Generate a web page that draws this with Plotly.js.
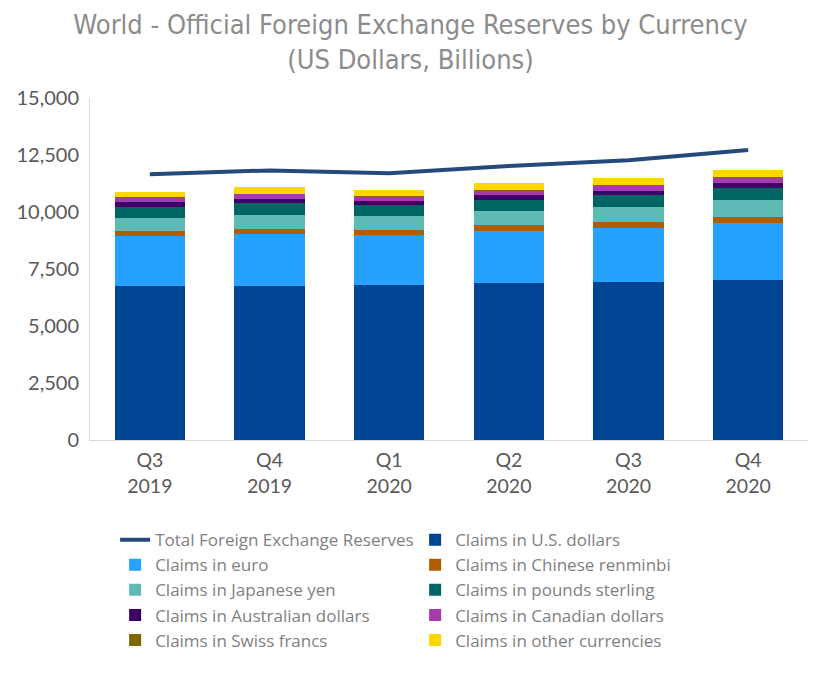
<!DOCTYPE html>
<html>
<head>
<meta charset="utf-8">
<script src="https://cdn.plot.ly/plotly-3.0.1.min.js"></script>
<style>html,body{margin:0;padding:0;background:#fff;}#chart{width:821px;height:676px;}</style>
</head>
<body>
<div id="chart"></div>
<script>
const quarters = ["Q3", "Q4", "Q1", "Q2", "Q3", "Q4"];
const years = ["2019", "2019", "2020", "2020", "2020", "2020"];
const totalReserves = [11660, 11825, 11700, 12020, 12270, 12720];
const usd = [6746, 6745, 6794, 6896, 6930, 7009];
const euro = [2207, 2279, 2201, 2276, 2366, 2517];
const renminbi = [212, 218, 221, 240, 250, 266];
const yen = [586, 644, 614, 623, 668, 723];
const sterling = [484, 511, 470, 503, 523, 542];
const aud = [186, 187, 180, 190, 189, 208];
const cad = [208, 206, 199, 214, 237, 247];
const chf = [16, 16, 16, 19, 18, 20];
const other = [254, 269, 270, 298, 311, 331];

const cats = quarters.map((q, i) => q + " " + years[i]);
const tickLabels = quarters.map((q, i) => q + "<br>" + years[i]);

const barSeries = [
  ["Claims in U.S. dollars", usd, "#004494"],
  ["Claims in euro", euro, "#25a1ff"],
  ["Claims in Chinese renminbi", renminbi, "#b05c00"],
  ["Claims in Japanese yen", yen, "#5fbab5"],
  ["Claims in pounds sterling", sterling, "#006663"],
  ["Claims in Australian dollars", aud, "#3d0068"],
  ["Claims in Canadian dollars", cad, "#a83aad"],
  ["Claims in Swiss francs", chf, "#7f6800"],
  ["Claims in other currencies", other, "#ffd700"]
];

const traces = [{
  type: "scatter", mode: "lines", name: "Total Foreign Exchange Reserves",
  x: cats, y: totalReserves, line: {color: "#234a7a", width: 4}, hoverinfo: "skip"
}];
barSeries.forEach(([name, vals, color]) => {
  traces.push({type: "bar", name: name, x: cats, y: vals, marker: {color: color, line: {width: 0}}, hoverinfo: "skip"});
});

const layout = {
  width: 821, height: 676,
  margin: {l: 90, r: 13, t: 98, b: 236},
  paper_bgcolor: "#ffffff", plot_bgcolor: "#ffffff",
  barmode: "stack", bargap: 0.41,
  font: {family: "Lato, 'Open Sans', sans-serif", color: "#595959"},
  title: {
    text: "World - Official Foreign Exchange Reserves by Currency<br>(US Dollars, Billions)",
    font: {family: "'Liberation Sans Narrow', 'DejaVu Sans Condensed', sans-serif", size: 27, color: "#8c8c8c"},
    x: 0.5, xanchor: "center", xref: "container", yref: "container", y: 0.95, yanchor: "top"
  },
  xaxis: {
    type: "category", tickvals: cats, ticktext: tickLabels,
    tickfont: {size: 19.5, color: "#595959"},
    showline: true, linecolor: "#d9d9d9", linewidth: 1,
    ticks: "", showgrid: false, zeroline: false, ticklabelstandoff: 3
  },
  yaxis: {
    range: [0, 15000], tickvals: [0, 2500, 5000, 7500, 10000, 12500, 15000],
    tickformat: ",d", tickfont: {size: 20, color: "#595959"},
    showline: true, linecolor: "#d9d9d9", linewidth: 1,
    showgrid: false, zeroline: false, ticks: "", ticklabelstandoff: 6
  },
  showlegend: true,
  legend: {
    orientation: "h", x: 0.035, xanchor: "left", y: -0.24, yanchor: "top",
    entrywidth: 255, entrywidthmode: "pixels", traceorder: "normal",
    font: {family: "'Open Sans', Lato, sans-serif", size: 17, color: "#7f7f7f"}, tracegroupgap: 0, itemwidth: 30
  }
};

Plotly.newPlot("chart", traces, layout, {displayModeBar: false, staticPlot: true});
</script>
</body>
</html>
